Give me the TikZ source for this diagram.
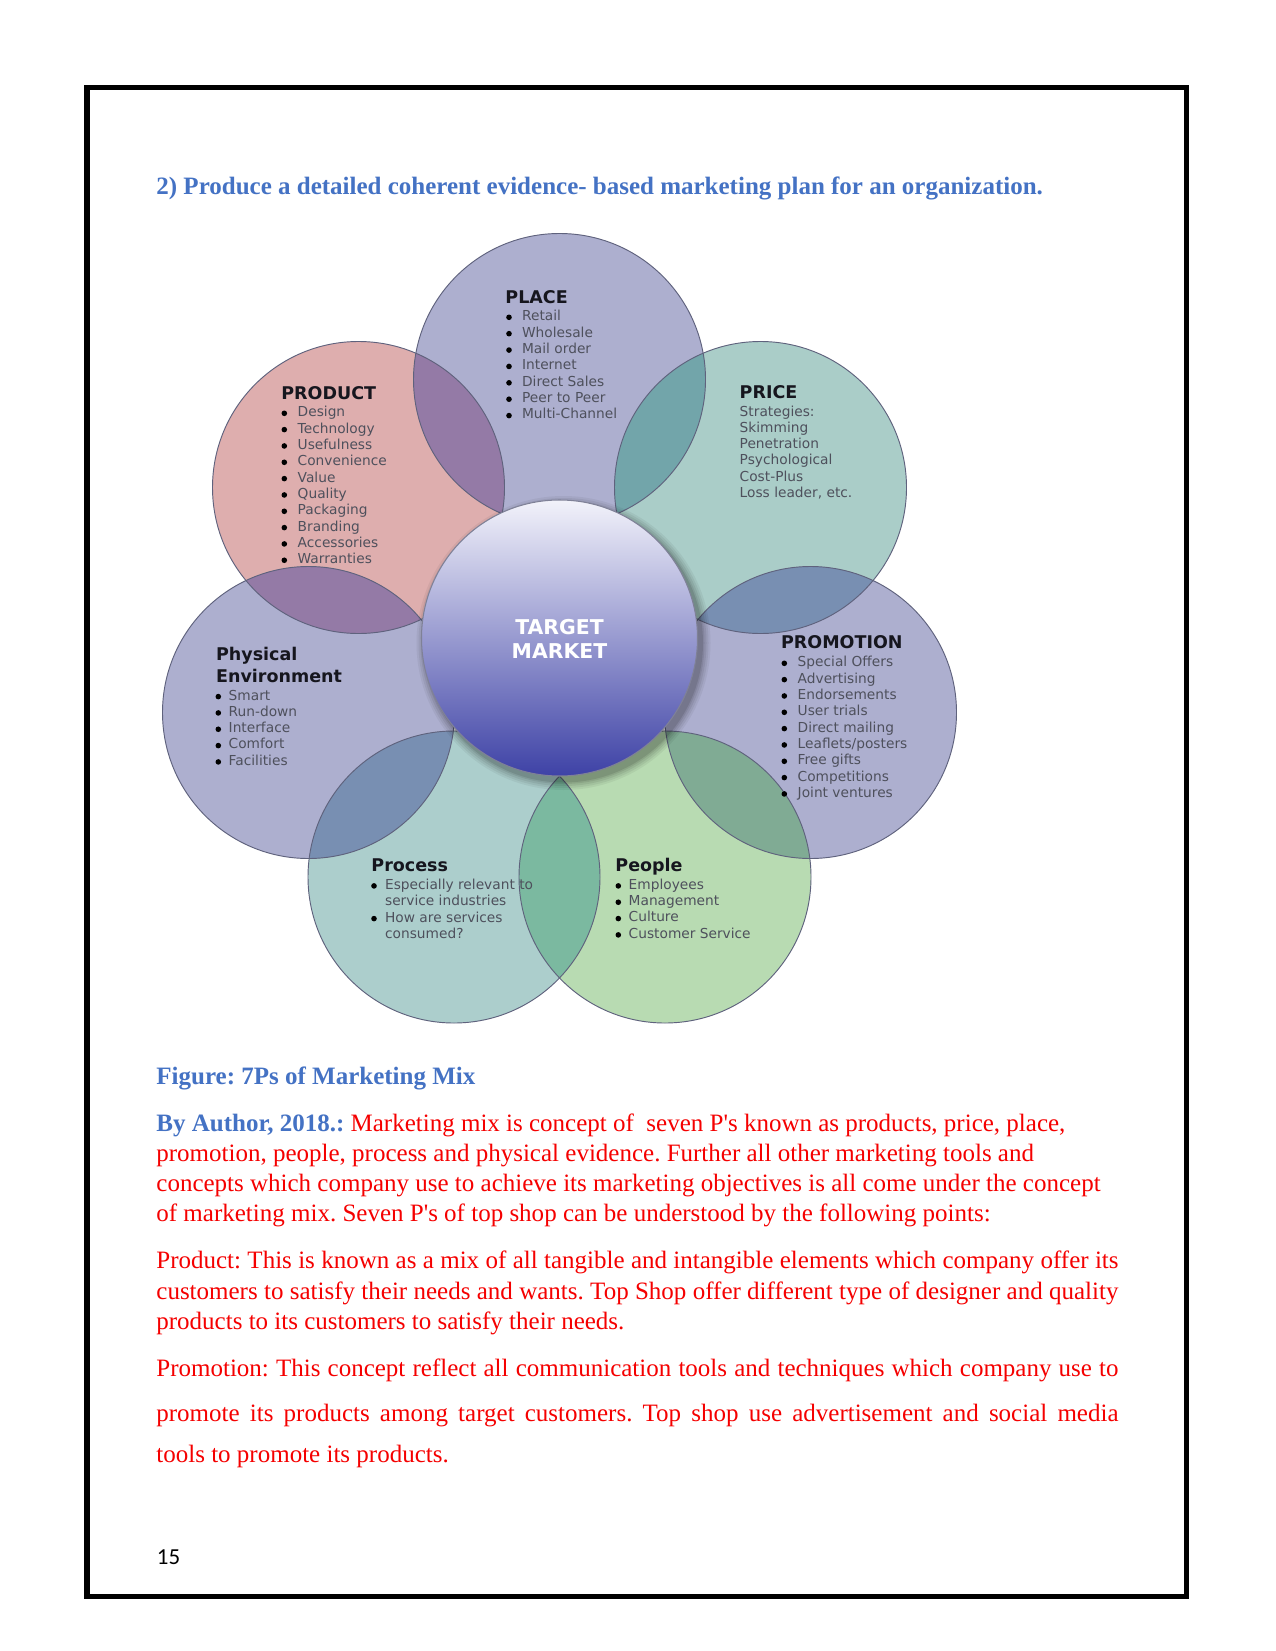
\documentclass[tikz,border=0pt]{standalone}
\usepackage{fontspec}
\setmainfont{Liberation Serif}[Ligatures=TeXOff]
\newfontfamily\vfnt{DejaVu Sans}
\newfontfamily\carl{Carlito}
\frenchspacing

\definecolor{hblue}{RGB}{68,114,196}
\definecolor{tred}{RGB}{245,0,0}
\definecolor{cLav}{RGB}{173,175,207}
\definecolor{cPink}{RGB}{222,174,174}
\definecolor{cTeal}{RGB}{170,205,200}
\definecolor{cTealB}{RGB}{172,206,204}
\definecolor{cGreen}{RGB}{184,219,178}
\definecolor{lPurple}{RGB}{148,122,166}
\definecolor{lTeal}{RGB}{114,165,170}
\definecolor{lSlate}{RGB}{120,143,178}
\definecolor{lGreenG}{RGB}{128,171,148}
\definecolor{lGreenT}{RGB}{123,185,160}
\definecolor{outl}{RGB}{95,98,125}
\definecolor{tmTop}{RGB}{242,242,250}
\definecolor{tmMid}{RGB}{158,162,210}
\definecolor{tmBot}{RGB}{62,66,166}
\definecolor{itemgray}{RGB}{78,80,92}
\definecolor{ttlblack}{RGB}{22,22,30}

\tikzset{
  itm/.style={anchor=base west, inner sep=0pt, text=itemgray, font=\vfnt\fontsize{6.6}{8}\selectfont},
  ttl/.style={anchor=base west, inner sep=0pt, text=ttlblack, font=\vfnt\bfseries\fontsize{8.4}{10}\selectfont},
  body/.style={anchor=base west, inner sep=0pt, text=tred, font=\fontsize{12}{14}\selectfont},
  bhead/.style={anchor=base west, inner sep=0pt, text=hblue, font=\bfseries\fontsize{12}{14}\selectfont},
  ring/.style={draw=outl, line width=0.45pt},
}

\newcommand\itemlist[6]{% name, xbullet, xtext, y0, dy, list
  \foreach \t [count=\i from 0] in {#6} {
    \node[itm] (#1-\i) at ({#3},{#4+\i*#5}) {\t};
    \fill[black] ({#2},{#4+\i*#5-3.4}) circle (2.8);
  }}

\begin{document}
\begin{tikzpicture}[x=0.48pt,y=-0.48pt]
\useasboundingbox (0,0) rectangle (1275,1651);
\fill[white] (0,0) rectangle (1275,1651);
\draw[line width=2.7pt] (87,87.5) rectangle (1186.5,1596.5);

% centres
\coordinate (cPlace) at (559.5,379.5);
\coordinate (cProduct) at (358.5,487.5);
\coordinate (cPrice) at (760.5,487.5);
\coordinate (cPhys) at (308.5,712.5);
\coordinate (cPromo) at (810.5,712.5);
\coordinate (cProcess) at (454,877);
\coordinate (cPeople) at (665,877);
\coordinate (cTarget) at (559.5,638);

% circle fills
\fill[cLav] (cPlace) circle (146);
\fill[cPink] (cProduct) circle (146);
\fill[cTeal] (cPrice) circle (146);
\fill[cLav] (cPhys) circle (146);
\fill[cLav] (cPromo) circle (146);
\fill[cTealB] (cProcess) circle (146);
\fill[cGreen] (cPeople) circle (146);

% lenses
\begin{scope}\clip (cProduct) circle (146); \fill[lPurple] (cPlace) circle (146);\end{scope}
\begin{scope}\clip (cPlace) circle (146); \fill[lTeal] (cPrice) circle (146);\end{scope}
\begin{scope}\clip (cPrice) circle (146); \fill[lSlate] (cPromo) circle (146);\end{scope}
\begin{scope}\clip (cPromo) circle (146); \fill[lGreenG] (cPeople) circle (146);\end{scope}
\begin{scope}\clip (cPeople) circle (146); \fill[lGreenT] (cProcess) circle (146);\end{scope}
\begin{scope}\clip (cProcess) circle (146); \fill[lSlate] (cPhys) circle (146);\end{scope}
\begin{scope}\clip (cPhys) circle (146); \fill[lPurple] (cProduct) circle (146);\end{scope}

% outlines
\foreach \c in {cPlace,cProduct,cPrice,cPhys,cPromo,cProcess,cPeople}
  \draw[ring] (\c) circle (146);

% target market shadow
\foreach \r/\o in {147/0.05,145/0.06,143/0.07,141/0.08,139.5/0.1}
  \fill[black, opacity=\o] (563.5,643) circle (\r);
\shade[top color=tmTop, middle color=tmMid, bottom color=tmBot] (cTarget) circle (138);
\draw[draw=outl!80, line width=0.5pt] (cTarget) circle (138);
\node[anchor=base, inner sep=0pt, text=white, font=\vfnt\bfseries\fontsize{9.8}{12}\selectfont] (tm1) at (559.5,634) {TARGET};
\node[anchor=base, inner sep=0pt, text=white, font=\vfnt\bfseries\fontsize{9.8}{12}\selectfont] (tm2) at (559.5,658.7) {MARKET};

% PLACE
\node[ttl] (placeT) at (505,303.3) {PLACE};
\itemlist{place}{509}{521.7}{320.7}{16.38}{Retail,Wholesale,Mail order,Internet,Direct Sales,Peer to Peer,Multi-Channel}

% PRODUCT
\node[ttl] (productT) at (281,399) {PRODUCT};
\itemlist{product}{284.3}{297.3}{416.7}{16.33}{Design,Technology,Usefulness,Convenience,Value,Quality,Packaging,Branding,Accessories,Warranties}

% PRICE
\node[ttl] (priceT) at (739.3,398.3) {PRICE};
\foreach \t [count=\i from 0] in {Strategies:,Skimming,Penetration,Psychological,Cost-Plus,{Loss leader, etc.}}
  \node[itm] (price-\i) at (739.3,{416+\i*16.33}) {\t};

% PHYSICAL ENVIRONMENT
\node[ttl] (physT1) at (215.7,660.7) {Physical};
\node[ttl] (physT2) at (215.7,682) {Environment};
\itemlist{phys}{218.3}{228.3}{700}{16.33}{Smart,Run-down,Interface,Comfort,Facilities}

% PROMOTION
\node[ttl] (promoT) at (780.7,648.3) {PROMOTION};
\itemlist{promo}{784.3}{797.3}{666.7}{16.33}{Special Offers,Advertising,Endorsements,User trials,Direct mailing,Leaflets/posters,Free gifts,Competitions,Joint ventures}

% PROCESS
\node[ttl] (procT) at (371,871) {Process};
\node[itm] (proc-0) at (384.7,889.3) {Especially relevant to};
\node[itm] (proc-1) at (384.7,905.7) {service industries};
\node[itm] (proc-2) at (384.7,922) {How are services};
\node[itm] (proc-3) at (384.7,938.3) {consumed?};
\fill[black] (374,885.9) circle (2.8);
\fill[black] (374,918.6) circle (2.8);

% PEOPLE
\node[ttl] (peopT) at (615,871) {People};
\itemlist{peop}{618.3}{628.3}{889.3}{16.33}{Employees,Management,Culture,Customer Service}

% heading
\node[bhead] (head) at (156,194.5) {2) Produce a detailed coherent evidence- based marketing plan for an organization.};

% caption and body
\node[bhead] (fig) at (156,1084) {Figure: 7Ps of Marketing Mix};
\node[body] (p1a) at (156,1131.5) {\textcolor{hblue}{\bfseries By Author, 2018.:} Marketing mix is concept of \ seven P's known as products, price, place,};
\node[body] (p1b) at (156,1161.7) {promotion, people, process and physical evidence. Further all other marketing tools and};
\node[body] (p1c) at (156,1191.7) {concepts which company use to achieve its marketing objectives is all come under the concept};
\node[body] (p1d) at (156,1221.7) {of marketing mix. Seven P's of top shop can be understood by the following points:};

\node[body] (p2a) at (156,1268.5) {\makebox[461.8pt][s]{Product: This is known as a mix of all tangible and intangible elements which company offer its}};
\node[body] (p2b) at (156,1299) {\makebox[461.8pt][s]{customers to satisfy their needs and wants. Top Shop offer different type of designer and quality}};
\node[body] (p2c) at (156,1329.5) {products to its customers to satisfy their needs.};

\node[body] (p3a) at (156,1376.7) {\makebox[461.8pt][s]{Promotion: This concept reflect all communication tools and techniques which company use to}};
\node[body] (p3b) at (156,1421) {\makebox[461.8pt][s]{promote its products among target customers. Top shop use advertisement and social media}};
\node[body] (p3c) at (156,1462.7) {tools to promote its products.};

\node[anchor=base west, inner sep=0pt, font=\carl\fontsize{11}{13}\selectfont] (pg) at (156.5,1564) {15};
\end{tikzpicture}
\end{document}
